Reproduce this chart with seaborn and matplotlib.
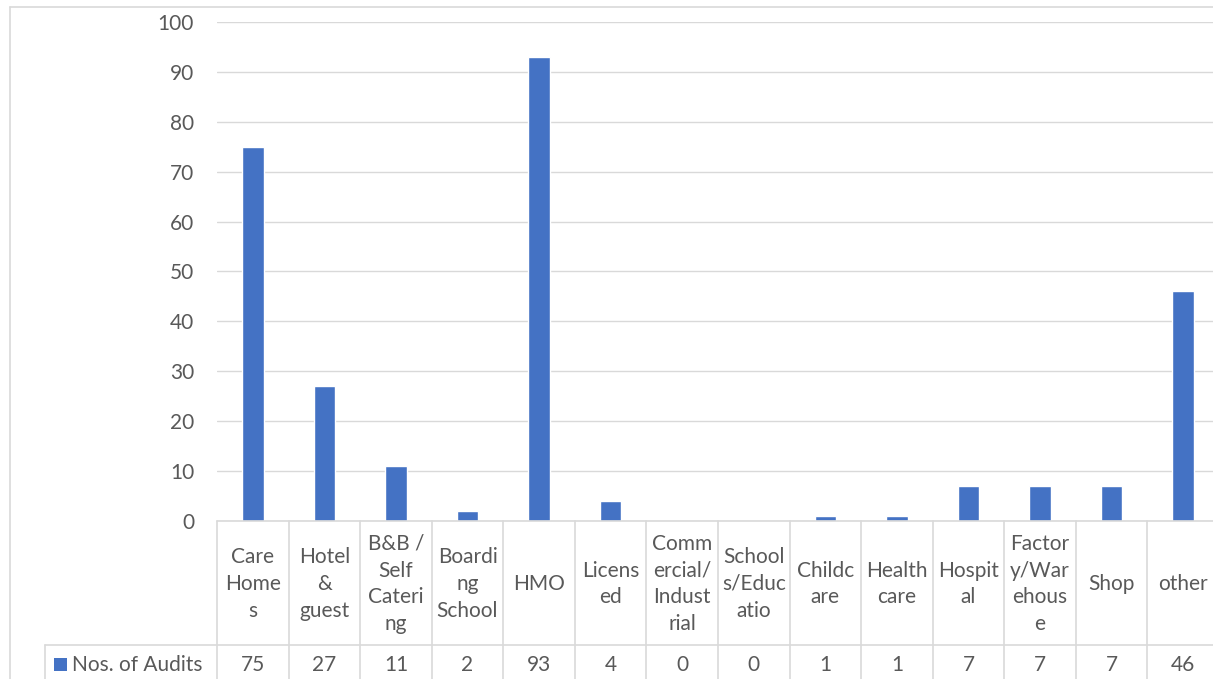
import matplotlib
matplotlib.use("Agg")
import matplotlib.pyplot as plt
from matplotlib.lines import Line2D
from matplotlib.patches import Rectangle
import seaborn as sns

# datos
categories = ["Care Homes", "Hotel & guest", "B&B / Self Catering", "Boarding School",
              "HMO", "Licensed", "Commercial/Industrial", "Schools/Education",
              "Childcare", "Health care", "Hospital", "Factory/Warehouse", "Shop", "other"]
audits = [75, 27, 11, 2, 93, 4, 0, 0, 1, 1, 7, 7, 7, 46]
# etiquetas tal como aparecen en la tabla (con cortes de linea)
wrapped_labels = ["Care\nHome\ns", "Hotel\n&\nguest", "B&B /\nSelf\nCateri\nng", "Boardi\nng\nSchool",
                  "HMO", "Licens\ned", "Comm\nercial/\nIndust\nrial", "School\ns/Educ\natio",
                  "Childc\nare", "Health\ncare", "Hospit\nal", "Factor\ny/War\nehous\ne",
                  "Shop", "other"]
series_name = "Nos. of Audits"
yticks = list(range(0, 101, 10))

BLUE = "#4472C4"
GRID = "#D9D9D9"
TXT = "#595959"
FS = 15

sns.set_style("white")
plt.rcParams["font.family"] = ["Lato", "DejaVu Sans"]

W, H = 1213, 679
fig = plt.figure(figsize=(W / 100, H / 100), dpi=100)

x0, x1, ytop, ybase = 217, 1219, 22, 521
ax = fig.add_axes([x0 / W, (H - ybase) / H, (x1 - x0) / W, (ybase - ytop) / H])

sns.barplot(x=categories, y=audits, color=BLUE, saturation=1, width=0.3, ax=ax)
ax.set_xlim(-0.5, len(categories) - 0.5)
ax.set_ylim(0, 100)
ax.set_yticks(yticks)
ax.yaxis.grid(True, color=GRID, linewidth=1)
ax.set_axisbelow(True)
for s in ax.spines.values():
    s.set_visible(False)
ax.tick_params(axis="y", length=0, pad=16.5, labelsize=FS, labelcolor=TXT)
ax.set_xticks([])
ax.set_xlabel("")
ax.set_ylabel("")

# tabla de datos debajo del grafico
row_split = 645
def ax_y(py):
    return (ybase - py) / (ybase - ytop)

tr = ax.get_xaxis_transform()
n = len(categories)
for i in range(n + 1):
    ax.add_line(Line2D([i - 0.5, i - 0.5], [ax_y(ybase), ax_y(H)], transform=tr,
                       color=GRID, linewidth=1.2, clip_on=False))
ax.add_line(Line2D([-0.5, n - 0.5], [0, 0], transform=tr, color=GRID, linewidth=1.2, clip_on=False))

for i, (lab, v) in enumerate(zip(wrapped_labels, audits)):
    ax.text(i, ax_y(584), lab, transform=tr, ha="center", va="center", multialignment="center",
            fontsize=FS, color=TXT, linespacing=1.42, clip_on=False)
    ax.text(i, ax_y(665), str(v), transform=tr, ha="center", va="center",
            fontsize=FS, color=TXT, clip_on=False)

# fila de la serie
fig.add_artist(Line2D([45 / W, x1 / W], [1 - row_split / H, 1 - row_split / H], color=GRID, linewidth=1.2))
fig.add_artist(Line2D([45 / W, 45 / W], [1 - row_split / H, 0], color=GRID, linewidth=1.2))
fig.add_artist(Rectangle((54 / W, 1 - 671 / H), 13 / W, 13 / H, color=BLUE, linewidth=0))
fig.text(72 / W, 1 - 665 / H, series_name, ha="left", va="center", fontsize=FS, color=TXT)

# borde del area del grafico
fig.add_artist(Line2D([10 / W, 10 / W], [0, 1 - 7 / H], color=GRID, linewidth=1.2))
fig.add_artist(Line2D([10 / W, 1], [1 - 7 / H, 1 - 7 / H], color=GRID, linewidth=1.2))

plt.savefig("out.png", dpi=100)
